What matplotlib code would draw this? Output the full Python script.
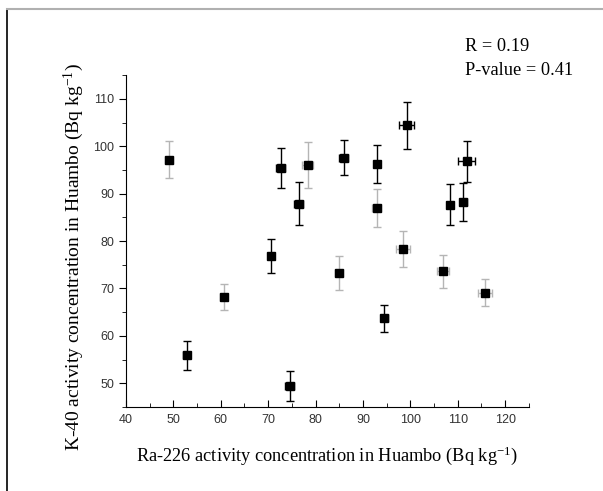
import matplotlib
matplotlib.use("Agg")
import matplotlib.pyplot as plt
from matplotlib.lines import Line2D
from matplotlib.ticker import MultipleLocator

# Ra-226 (x) vs K-40 (y), Bq/kg
ra226 = [49.1, 52.8, 60.6, 70.6, 72.6, 74.5, 76.4, 78.3, 84.9, 85.9,
         92.9, 92.9, 94.5, 98.4, 99.2, 106.9, 108.4, 111.2, 111.9, 115.7]
k40 = [97.2, 55.9, 68.2, 76.8, 95.4, 49.4, 87.9, 96.0, 73.3, 97.6,
       96.2, 86.9, 63.7, 78.4, 104.4, 73.6, 87.7, 88.2, 96.8, 69.1]
ra226_err = [0.8, 0.7, 0.7, 0.7, 1.0, 1.0, 1.0, 1.2, 0.9, 1.0,
             0.6, 0.9, 0.8, 1.5, 1.6, 1.2, 0.6, 0.8, 1.8, 1.5]
k40_err = [3.9, 3.0, 2.7, 3.6, 4.3, 3.2, 4.5, 4.8, 3.6, 3.7,
           4.0, 4.0, 2.9, 3.8, 5.0, 3.5, 4.3, 4.0, 4.3, 2.8]

# the scanned figure shows some error bars faded
faded = [1, 0, 1, 0, 0, 0, 0, 1, 1, 0, 0, 1, 0, 1, 0, 1, 0, 0, 0, 1]

serif = "Liberation Serif"
plt.rcParams["mathtext.fontset"] = "custom"
plt.rcParams["mathtext.rm"] = serif
plt.rcParams["mathtext.it"] = serif

fig = plt.figure(figsize=(6.03, 4.91), dpi=100)
ax = fig.add_axes([0.209, 0.171, 0.668, 0.676])

for xi, yi, xe, ye, f in zip(ra226, k40, ra226_err, k40_err, faded):
    col = "#b5b5b5" if f else "black"
    ax.errorbar(xi, yi, yerr=ye, fmt="none", ecolor=col, elinewidth=1.0,
                capsize=3, capthick=1.0)
    ax.errorbar(xi, yi, xerr=xe, fmt="none", ecolor=col, elinewidth=1.0,
                capsize=3, capthick=1.0)
ax.plot(ra226, k40, "s", color="black", markersize=6, zorder=3)

ax.set_xlim(40, 125)
ax.set_ylim(45, 115)
ax.xaxis.set_major_locator(MultipleLocator(10))
ax.xaxis.set_minor_locator(MultipleLocator(5))
ax.yaxis.set_major_locator(MultipleLocator(10))
ax.yaxis.set_minor_locator(MultipleLocator(5))
ax.set_yticks([50, 60, 70, 80, 90, 100, 110])
ax.spines["top"].set_visible(False)
ax.spines["right"].set_visible(False)
ax.tick_params(axis="x", which="major", direction="in", length=5, labelsize=9, pad=5)
ax.tick_params(axis="x", which="minor", direction="in", length=3)
ax.tick_params(axis="y", which="major", direction="out", length=5, labelsize=9)
ax.tick_params(axis="y", which="minor", direction="out", length=3)
for lab in ax.get_xticklabels() + ax.get_yticklabels():
    lab.set_family("Liberation Sans")
    lab.set_color("#333333")

ax.set_xlabel(r"Ra-226 activity concentration in Huambo (Bq kg$^{\mathrm{-1}}$)",
              family=serif, fontsize=13.2, labelpad=13)
ax.set_ylabel(r"K-40 activity concentration in Huambo (Bq kg$^{\mathrm{-1}}$)",
              family=serif, fontsize=14)
ax.yaxis.set_label_coords(-0.10, 0.452)

fig.text(0.771, 0.906, "R = 0.19", family=serif, fontsize=13.2, va="center")
fig.text(0.771, 0.857, "P-value = 0.41", family=serif, fontsize=13.2, va="center")

# page frame
fig.add_artist(Line2D([0.012, 0.012], [0.0, 0.981], color="black", lw=1.2))
fig.add_artist(Line2D([0.012, 1.0], [0.981, 0.981], color="#b0b0b0", lw=1.5))

fig.savefig("out.png", dpi=100)
